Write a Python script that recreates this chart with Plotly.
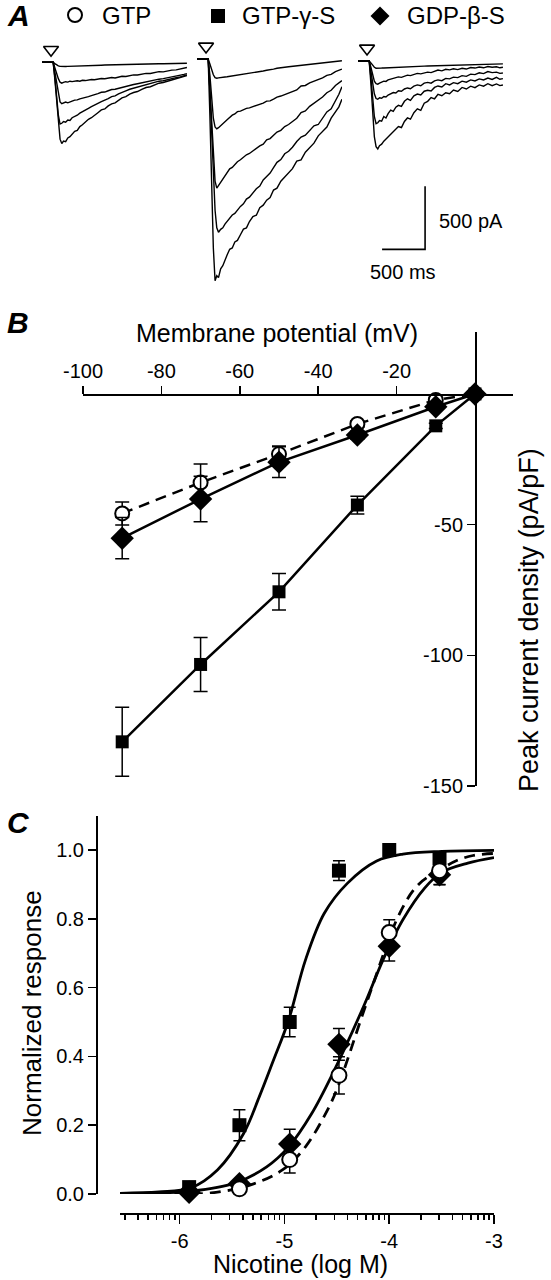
import math
import plotly.graph_objects as go

W, H = 551, 1280
FONT = "Arial, 'Liberation Sans', Helvetica, sans-serif"


def px_x(p):
    return p / W


def px_y(p):
    return 1 - p / H


# ---------------- Panel A : current traces (ms, pA) ----------------
trace_time_ms = [-130, -20, 0, 20, 40, 60, 80, 100, 120, 145, 170, 195, 220, 250, 280, 310, 340,
                 375, 410, 445, 480, 520, 560, 600, 640, 680, 720, 760, 800, 845, 890, 935, 980,
                 1030, 1080, 1130, 1180, 1230, 1280, 1330, 1380, 1430, 1480, 1520, 1555]

gtp_traces = [
    [0, 0, 0, -10, -20, -28, -32, -34, -33, -33, -32, -31, -31, -30, -29, -28, -28, -27, -26, -25,
     -25, -24, -23, -22, -21, -21, -20, -19, -18, -18, -17, -16, -16, -15, -14, -14, -13, -12, -12,
     -11, -11, -10, -9, -9, -8],
    [0, 0, 0, -45, -90, -130, -158, -166, -160, -154, -157, -150, -153, -149, -147, -150, -143,
     -145, -140, -136, -139, -133, -129, -131, -124, -121, -124, -116, -111, -113, -104, -100,
     -101, -92, -88, -89, -80, -74, -76, -66, -62, -60, -52, -47, -41],
    [0, 0, 0, -80, -170, -260, -315, -329, -322, -316, -322, -312, -308, -300, -298, -290, -286,
     -278, -272, -264, -258, -248, -238, -236, -226, -216, -214, -206, -198, -194, -184, -176,
     -170, -162, -152, -148, -142, -134, -130, -122, -112, -110, -102, -96, -90],
    [0, 0, 0, -120, -280, -420, -490, -484, -470, -476, -458, -462, -440, -432, -420, -404, -394,
     -380, -366, -352, -342, -326, -312, -302, -288, -272, -266, -250, -236, -226, -214, -206,
     -196, -184, -178, -166, -160, -150, -146, -136, -132, -122, -116, -108, -100],
    [0, 0, 0, -140, -320, -500, -610, -645, -625, -630, -600, -590, -570, -548, -540, -510, -496,
     -470, -452, -440, -418, -400, -378, -370, -346, -330, -322, -300, -282, -272, -252, -240,
     -232, -214, -200, -194, -178, -166, -160, -150, -140, -132, -122, -112, -105],
]

gtpgs_traces = [
    [0, 0, 0, -40, -85, -125, -148, -153, -150, -146, -148, -143, -141, -138, -135, -133, -130,
     -127, -124, -119, -116, -110, -104, -101, -95, -89, -86, -80, -73, -71, -65, -61, -58, -53,
     -48, -46, -42, -38, -35, -31, -27, -22, -19, -16, -14],
    [0, 0, 0, -130, -300, -470, -540, -555, -545, -530, -520, -498, -482, -462, -446, -436, -418,
     -414, -400, -392, -388, -378, -370, -362, -350, -334, -332, -318, -302, -294, -282, -268,
     -256, -246, -214, -210, -190, -176, -168, -150, -130, -122, -100, -92, -80],
    [0, 0, 0, -240, -520, -800, -970, -1025, -1005, -975, -955, -925, -905, -872, -860, -835,
     -815, -800, -776, -760, -750, -728, -706, -690, -676, -642, -632, -602, -580, -566, -536,
     -520, -498, -470, -425, -412, -376, -350, -322, -302, -268, -248, -210, -192, -172],
    [0, 0, 0, -250, -600, -950, -1200, -1340, -1375, -1352, -1340, -1310, -1290, -1268, -1238,
     -1225, -1196, -1170, -1150, -1112, -1096, -1060, -1030, -1008, -960, -932, -905, -862, -820,
     -798, -752, -732, -700, -655, -620, -605, -570, -530, -520, -470, -420, -395, -330, -280,
     -220],
    [0, 0, 0, -450, -1000, -1500, -1760, -1720, -1735, -1665, -1640, -1590, -1555, -1510, -1500,
     -1452, -1440, -1395, -1350, -1340, -1290, -1250, -1240, -1180, -1160, -1120, -1100, -1040,
     -1025, -970, -935, -900, -870, -810, -800, -740, -700, -668, -610, -575, -540, -470, -420,
     -380, -320],
]

gdpbs_traces = [
    [0, 0, 0, -15, -35, -50, -57, -58, -57, -56, -55, -54, -53, -52, -51, -50, -49, -48, -47, -46,
     -45, -44, -43, -42, -41, -40, -39, -38, -37, -36, -35, -34, -33, -32, -31, -30, -29, -28,
     -27, -27, -26, -25, -24, -24, -23],
    [0, 0, 0, -50, -110, -160, -180, -184, -176, -168, -160, -162, -150, -144, -140, -136, -126,
     -130, -118, -112, -116, -104, -98, -102, -92, -88, -92, -80, -72, -78, -66, -70, -62, -68,
     -58, -64, -52, -56, -48, -54, -44, -50, -46, -54, -50],
    [0, 0, 0, -80, -180, -260, -298, -303, -292, -296, -282, -286, -270, -262, -250, -254, -236,
     -240, -222, -214, -220, -200, -190, -196, -176, -170, -176, -158, -150, -156, -138, -142,
     -128, -132, -116, -122, -104, -108, -94, -100, -84, -92, -88, -98, -95],
    [0, 0, 0, -130, -300, -440, -498, -490, -472, -478, -440, -452, -418, -390, -400, -366, -352,
     -360, -320, -300, -312, -276, -262, -270, -240, -232, -238, -210, -198, -206, -180, -190,
     -172, -180, -160, -168, -150, -158, -142, -150, -135, -146, -130, -145, -140],
    [0, 0, 0, -180, -420, -600, -680, -698, -672, -660, -636, -620, -604, -580, -566, -546, -520,
     -528, -480, -452, -462, -410, -380, -392, -335, -320, -290, -300, -265, -276, -252, -260,
     -230, -242, -210, -222, -200, -212, -190, -200, -180, -196, -182, -195, -190],
]

application_time_ms = -25
application_marker_pA = 100
scale_bar_ms = 500
scale_bar_pA = 500

# ---------------- Panel B : I-V relation ----------------
membrane_potential_mV = [-90, -70, -50, -30, -10, 0]
iv_gtp = [-45.7, -33.9, -23.0, -11.5, -2.3, 0]
iv_gtp_err = [4.4, 7.1, 3.1, 1.2, 0.8, 0]
iv_gtpgs = [-133.1, -103.5, -75.7, -42.5, -12.2, 0]
iv_gtpgs_err = [13.2, 10.3, 7.0, 3.4, 1.0, 0]
iv_gdpbs = [-55.2, -40.2, -26.1, -15.7, -4.9, 0]
iv_gdpbs_err = [7.9, 8.7, 5.9, 1.6, 1.0, 0]

# ---------------- Panel C : concentration-response ----------------
nicotine_logM = [-5.91, -5.43, -4.95, -4.48, -4.0, -3.52]
cr_gtpgs = [0.02, 0.20, 0.50, 0.94, 1.00, 0.975]
cr_gtpgs_err = [0.008, 0.045, 0.043, 0.029, 0.008, 0.02]
cr_gtp = [-0.005, 0.015, 0.10, 0.345, 0.76, 0.94]
cr_gtp_err = [0.008, 0.008, 0.039, 0.054, 0.037, 0.04]
cr_gdpbs = [0.005, 0.03, 0.145, 0.435, 0.72, 0.928]
cr_gdpbs_err = [0.008, 0.01, 0.043, 0.046, 0.043, 0.029]

# fitted curves
fit_gtpgs_x = [-6.57, -6.2, -5.9, -5.64, -5.39, -5.24, -5.11, -4.96, -4.80, -4.62, -4.40, -4.12,
               -3.87, -3.5, -3.0]
fit_gtpgs_y = [0.002, 0.006, 0.017, 0.07, 0.176, 0.283, 0.385, 0.506, 0.68, 0.816, 0.903, 0.968,
               0.988, 0.996, 0.999]
fit_gdpbs_x = [-6.57, -6.2, -5.9, -5.48, -5.17, -4.96, -4.74, -4.54, -4.245, -4.06, -3.87, -3.66,
               -3.5, -3.25, -3.0]
fit_gdpbs_y = [0.0, 0.003, 0.008, 0.031, 0.079, 0.137, 0.234, 0.35, 0.545, 0.68, 0.797, 0.89,
               0.935, 0.962, 0.978]
fit_gtp_x = [-6.57, -6.0, -5.70, -5.33, -5.02, -4.80, -4.59, -4.49, -4.2, -3.90, -3.72, -3.5,
             -3.35, -3.2, -3.0]
fit_gtp_y = [0.0, 0.0, 0.003, 0.026, 0.07, 0.137, 0.244, 0.312, 0.57, 0.816, 0.9, 0.945, 0.97,
             0.984, 0.99]

fig = go.Figure()
BLK = "black"

# ---- Panel A traces ----
A_TOP, A_BOT = 30, 290
PA_PER_PX = scale_bar_pA / 63.0
MS_PER_PX = scale_bar_ms / 43.0
group_defs = [
    ("x3", "y3", gtp_traces, 42.0, 62.3),
    ("x4", "y4", gtpgs_traces, 197.0, 59.0),
    ("x5", "y5", gdpbs_traces, 358.0, 61.0),
]
t0, t1 = trace_time_ms[0], trace_time_ms[-1]
for xa, ya, traces, left_px, base_px in group_defs:
    for tr in traces:
        fig.add_trace(go.Scatter(x=trace_time_ms, y=tr, mode="lines", xaxis=xa, yaxis=ya,
                                 line=dict(color=BLK, width=1.4), showlegend=False,
                                 hoverinfo="skip"))
    fig.add_trace(go.Scatter(x=[application_time_ms], y=[application_marker_pA], mode="markers",
                             xaxis=xa, yaxis=ya, showlegend=False, cliponaxis=False,
                             marker=dict(symbol="triangle-down-open", size=13, color=BLK,
                                         line=dict(width=1.6, color=BLK))))

# scale bar in the third group
sb_x = 650
sb_y = -1495
fig.add_trace(go.Scatter(x=[sb_x - scale_bar_ms, sb_x, sb_x],
                         y=[sb_y, sb_y, sb_y + scale_bar_pA], mode="lines",
                         xaxis="x5", yaxis="y5", line=dict(color=BLK, width=1.6),
                         showlegend=False, cliponaxis=False))

# ---- Panel B ----
fig.add_trace(go.Scatter(x=membrane_potential_mV, y=iv_gtpgs, mode="lines+markers",
                         xaxis="x", yaxis="y", cliponaxis=False, showlegend=False,
                         line=dict(color=BLK, width=2.5),
                         marker=dict(symbol="square", size=13, color=BLK),
                         error_y=dict(type="data", array=iv_gtpgs_err, color=BLK, thickness=1.5,
                                      width=7)))
fig.add_trace(go.Scatter(x=membrane_potential_mV, y=iv_gtp, mode="lines+markers",
                         xaxis="x", yaxis="y", cliponaxis=False, showlegend=False,
                         line=dict(color=BLK, width=2.5, dash="11px,7px"),
                         marker=dict(symbol="circle", size=14, color="white",
                                     line=dict(color=BLK, width=2)),
                         error_y=dict(type="data", array=iv_gtp_err, color=BLK, thickness=1.5,
                                      width=7)))
fig.add_trace(go.Scatter(x=membrane_potential_mV, y=iv_gdpbs, mode="lines+markers",
                         xaxis="x", yaxis="y", cliponaxis=False, showlegend=False,
                         line=dict(color=BLK, width=2.5),
                         marker=dict(symbol="diamond", size=18, color=BLK),
                         error_y=dict(type="data", array=iv_gdpbs_err, color=BLK, thickness=1.5,
                                      width=7)))

# ---- Panel C ----
fig.add_trace(go.Scatter(x=fit_gtpgs_x, y=fit_gtpgs_y, mode="lines", xaxis="x2", yaxis="y2",
                         line=dict(color=BLK, width=2.8, shape="spline"), showlegend=False,
                         cliponaxis=False))
fig.add_trace(go.Scatter(x=fit_gdpbs_x, y=fit_gdpbs_y, mode="lines", xaxis="x2", yaxis="y2",
                         line=dict(color=BLK, width=2.8, shape="spline"), showlegend=False,
                         cliponaxis=False))
fig.add_trace(go.Scatter(x=fit_gtp_x, y=fit_gtp_y, mode="lines", xaxis="x2", yaxis="y2",
                         line=dict(color=BLK, width=2.8, shape="spline", dash="11px,7px"),
                         showlegend=False, cliponaxis=False))
fig.add_trace(go.Scatter(x=nicotine_logM, y=cr_gtpgs, mode="markers", xaxis="x2", yaxis="y2",
                         cliponaxis=False, showlegend=False,
                         marker=dict(symbol="square", size=14, color=BLK),
                         error_y=dict(type="data", array=cr_gtpgs_err, color=BLK, thickness=1.5,
                                      width=6)))
fig.add_trace(go.Scatter(x=nicotine_logM, y=cr_gdpbs, mode="markers", xaxis="x2", yaxis="y2",
                         cliponaxis=False, showlegend=False,
                         marker=dict(symbol="diamond", size=18, color=BLK),
                         error_y=dict(type="data", array=cr_gdpbs_err, color=BLK, thickness=1.5,
                                      width=6)))
fig.add_trace(go.Scatter(x=nicotine_logM, y=cr_gtp, mode="markers", xaxis="x2", yaxis="y2",
                         cliponaxis=False, showlegend=False,
                         marker=dict(symbol="circle", size=15, color="white",
                                     line=dict(color=BLK, width=2)),
                         error_y=dict(type="data", array=cr_gtp_err, color=BLK, thickness=1.5,
                                      width=6)))

# minor log ticks for panel C
C_XMIN = -6.57
minor_vals = []
for n in range(-7, -3):
    for k in range(2, 10):
        v = math.log10(k) + n
        if C_XMIN < v < -3:
            minor_vals.append(v)

axis_common = dict(showgrid=False, zeroline=False, color=BLK, linecolor=BLK, linewidth=1.5,
                   tickcolor=BLK, tickwidth=1.5, ticks="outside", showline=True,
                   automargin=False,
                   tickfont=dict(family=FONT, size=20, color=BLK))

layout = dict(
    width=W, height=H, margin=dict(l=0, r=0, t=0, b=0, pad=0, autoexpand=False),
    paper_bgcolor="white", plot_bgcolor="white", showlegend=False,
    font=dict(family=FONT, color=BLK),
    # Panel B
    xaxis=dict(axis_common, domain=[px_x(83), px_x(513)], range=[-100, 9.7],
               anchor="free", position=px_y(394), side="top", ticklen=8,
               tickmode="array", tickvals=[-100, -80, -60, -40, -20],
               ticktext=["-100", "-80", "-60", "-40", "-20"]),
    yaxis=dict(axis_common, domain=[px_y(786), px_y(332)], range=[-150, 23.7],
               anchor="free", position=px_x(475), side="left", ticklen=8,
               tickmode="array", tickvals=[-50, -100, -150],
               ticktext=["-50", "-100", "-150"]),
    # Panel C
    xaxis2=dict(axis_common, domain=[px_x(120), px_x(494)], range=[C_XMIN, -3],
                anchor="free", position=px_y(1213), ticklen=9,
                tickmode="array", tickvals=[-6, -5, -4, -3],
                ticktext=["-6", "-5", "-4", "-3"],
                minor=dict(tickmode="array", tickvals=minor_vals, ticks="outside", ticklen=5,
                           tickwidth=1.5, tickcolor=BLK, showgrid=False)),
    yaxis2=dict(axis_common, domain=[px_y(1194), px_y(815.6)], range=[0, 1.1],
                anchor="free", position=px_x(96), ticklen=8,
                tickmode="array", tickvals=[0, 0.2, 0.4, 0.6, 0.8, 1.0],
                ticktext=["0.0", "0.2", "0.4", "0.6", "0.8", "1.0"]),
)

for xa, ya, traces, left_px, base_px in group_defs:
    xn = "xaxis" + xa[1:]
    yn = "yaxis" + ya[1:]
    layout[xn] = dict(domain=[px_x(left_px), px_x(left_px + (t1 - t0) / MS_PER_PX)],
                      range=[t0, t1], anchor=ya, visible=False, automargin=False)
    layout[yn] = dict(domain=[px_y(A_BOT), px_y(A_TOP)],
                      range=[-(A_BOT - base_px) * PA_PER_PX, (base_px - A_TOP) * PA_PER_PX],
                      anchor=xa, visible=False, automargin=False)

fig.update_layout(**layout)

ann = []


def txt(x, y, s, size, xanchor="center", yanchor="middle", angle=0, xref="paper",
        yref="paper"):
    ann.append(dict(x=x, y=y, xref=xref, yref=yref, text=s, showarrow=False,
                    xanchor=xanchor, yanchor=yanchor, textangle=angle,
                    font=dict(family=FONT, size=size, color=BLK)))


# panel letters
txt(px_x(5), px_y(15), "<b><i>A</i></b>", 30, xanchor="left")
txt(px_x(5), px_y(322), "<b><i>B</i></b>", 30, xanchor="left")
txt(px_x(5), px_y(822), "<b><i>C</i></b>", 30, xanchor="left")

# legend of panel A
txt(px_x(100), px_y(16), "GTP", 24, xanchor="left")
txt(px_x(240), px_y(16), "GTP-γ-S", 24, xanchor="left")
txt(px_x(405), px_y(16), "GDP-β-S", 24, xanchor="left")

# scale bar labels
ann.append(dict(x=sb_x + 139, y=sb_y + 225, xref="x5", yref="y5",
                text=f"{scale_bar_pA} pA", showarrow=False, xanchor="left",
                font=dict(family=FONT, size=20, color=BLK)))
ann.append(dict(x=sb_x - 251, y=sb_y - 180, xref="x5", yref="y5",
                text=f"{scale_bar_ms} ms", showarrow=False, xanchor="center",
                font=dict(family=FONT, size=20, color=BLK)))

# axis titles
txt(px_x(277), px_y(333), "Membrane potential (mV)", 25)
txt(px_x(529), px_y(620), "Peak current density (pA/pF)", 27, angle=-90)
txt(px_x(32), px_y(1013), "Normalized response", 26, angle=-90)
txt(px_x(300), px_y(1280), "Nicotine (log M)", 25, yanchor="bottom")

fig.update_layout(annotations=ann)

# legend glyphs
shapes = [
    dict(type="circle", xref="paper", yref="paper", x0=px_x(68), x1=px_x(82), y0=px_y(22),
         y1=px_y(8), line=dict(color=BLK, width=2), fillcolor="white"),
    dict(type="rect", xref="paper", yref="paper", x0=px_x(211), x1=px_x(225), y0=px_y(23),
         y1=px_y(9), line=dict(color=BLK, width=0), fillcolor=BLK),
]
cx, cy, r = 380, 16, 9.5
shapes.append(dict(type="path", xref="paper", yref="paper",
                   path=f"M {px_x(cx - r)} {px_y(cy)} L {px_x(cx)} {px_y(cy - r)} "
                        f"L {px_x(cx + r)} {px_y(cy)} L {px_x(cx)} {px_y(cy + r)} Z",
                   fillcolor=BLK, line=dict(color=BLK, width=0)))
fig.update_layout(shapes=shapes)

fig.write_html("out.html",
               config={"displayModeBar": False, "staticPlot": True},
               post_script="document.body.style.margin='0px';"
                           "document.body.style.padding='0px';")
